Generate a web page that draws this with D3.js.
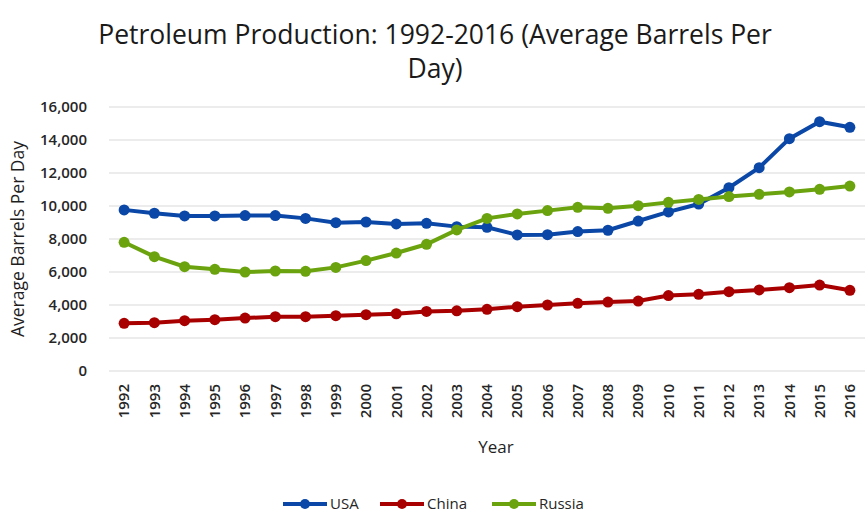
<!DOCTYPE html>
<meta charset="utf-8">
<style>
body { margin: 0; background: #fff; }
text { font-family: "Open Sans", sans-serif; fill: #262626; }
.title { font-size: 26.5px; fill: #1a1a1a; }
.axis text { font-size: 15px; fill: #262626; font-weight: 600; }
.axis path, .axis line { display: none; }
.axis-title { fill: #1f1f1f; }
.grid line { stroke: #d9d9d9; stroke-width: 1px; }
.line { fill: none; stroke-width: 4px; }
</style>
<body>
<svg width="865" height="516"></svg>
<script src="https://d3js.org/d3.v7.min.js"></script>
<script>

var years = d3.range(1992, 2017).map(String);
var usa = [9765, 9560, 9400, 9400, 9420, 9420, 9250, 8990, 9030, 8910, 8950, 8750,
           8710, 8250, 8260, 8450, 8530, 9090, 9640, 10120, 11110, 12320, 14080, 15110, 14770];
var china = [2890, 2930, 3050, 3110, 3210, 3290, 3290, 3350, 3410, 3470, 3610, 3650,
             3740, 3900, 4000, 4100, 4180, 4240, 4570, 4650, 4810, 4910, 5050, 5210, 4890];
var russia = [7800, 6930, 6320, 6160, 6000, 6060, 6040, 6280, 6690, 7150, 7680, 8550,
              9250, 9520, 9720, 9920, 9860, 10020, 10220, 10400, 10570, 10710, 10850, 11010, 11210];
var seriesNames = ["USA", "China", "Russia"];
var colors = ["#0a47a6", "#a80000", "#6aa30e"];
var yTicks = [0, 2000, 4000, 6000, 8000, 10000, 12000, 14000, 16000];

var series = [usa, china, russia].map(function(v, i) {
  return {name: seriesNames[i], color: colors[i], values: v};
});

var margin = {top: 107, right: 0, bottom: 145, left: 109},
    width = 865 - margin.left - margin.right,
    height = 371 - margin.top;

var svg = d3.select("svg");

svg.append("text")
  .attr("class", "title")
  .attr("x", 435).attr("y", 44)
  .attr("text-anchor", "middle")
  .text("Petroleum Production: 1992-2016 (Average Barrels Per");
svg.append("text")
  .attr("class", "title")
  .attr("x", 435).attr("y", 78)
  .attr("text-anchor", "middle")
  .text("Day)");

var x = d3.scaleBand().domain(years).range([0, width]);
var y = d3.scaleLinear().domain([0, 16000]).range([height, 0]);

var g = svg.append("g")
  .attr("transform", "translate(" + margin.left + "," + margin.top + ")");

g.append("g")
  .attr("class", "grid")
  .selectAll("line")
  .data(yTicks)
  .enter().append("line")
  .attr("x1", 0).attr("x2", width)
  .attr("y1", function(d) { return y(d); })
  .attr("y2", function(d) { return y(d); });

g.append("g")
  .attr("class", "axis axis--y")
  .attr("transform", "translate(-19,0)")
  .call(d3.axisLeft(y).tickValues(yTicks).tickSize(0).tickFormat(d3.format(",")));

var gX = g.append("g")
  .attr("class", "axis axis--x")
  .attr("transform", "translate(0," + height + ")")
  .call(d3.axisBottom(x).tickSize(0));

gX.selectAll("text")
  .attr("transform", "rotate(-90)")
  .attr("x", -13)
  .attr("y", 0)
  .attr("dy", "0.35em")
  .style("text-anchor", "end");

svg.append("text")
  .attr("class", "axis-title")
  .attr("x", 496).attr("y", 453)
  .attr("text-anchor", "middle")
  .style("font-size", "17px")
  .text("Year");

svg.append("text")
  .attr("class", "axis-title")
  .attr("transform", "translate(24,239)rotate(-90)")
  .attr("text-anchor", "middle")
  .style("font-size", "17.5px")
  .text("Average Barrels Per Day");

var line = d3.line()
  .x(function(d, i) { return x(years[i]) + x.bandwidth() / 2; })
  .y(function(d) { return y(d); });

var sg = g.selectAll(".series")
  .data(series)
  .enter().append("g")
  .attr("class", "series");

sg.append("path")
  .attr("class", "line")
  .attr("stroke", function(d) { return d.color; })
  .attr("d", function(d) { return line(d.values); });

sg.each(function(s) {
  d3.select(this).selectAll("circle")
    .data(s.values)
    .enter().append("circle")
    .attr("cx", function(d, i) { return x(years[i]) + x.bandwidth() / 2; })
    .attr("cy", function(d) { return y(d); })
    .attr("r", 5.5)
    .attr("fill", s.color);
});

// legend
var legX = [283, 380, 492];
var leg = svg.append("g").selectAll("g")
  .data(series)
  .enter().append("g")
  .attr("transform", function(d, i) { return "translate(" + legX[i] + ",504)"; });

leg.append("line")
  .attr("x1", 0).attr("x2", 44)
  .attr("stroke", function(d) { return d.color; })
  .attr("stroke-width", 4);
leg.append("circle")
  .attr("cx", 22).attr("r", 5)
  .attr("fill", function(d) { return d.color; });
leg.append("text")
  .attr("x", 47).attr("dy", "0.35em")
  .style("font-size", "15px")
  .text(function(d) { return d.name; });

</script>
</body>
